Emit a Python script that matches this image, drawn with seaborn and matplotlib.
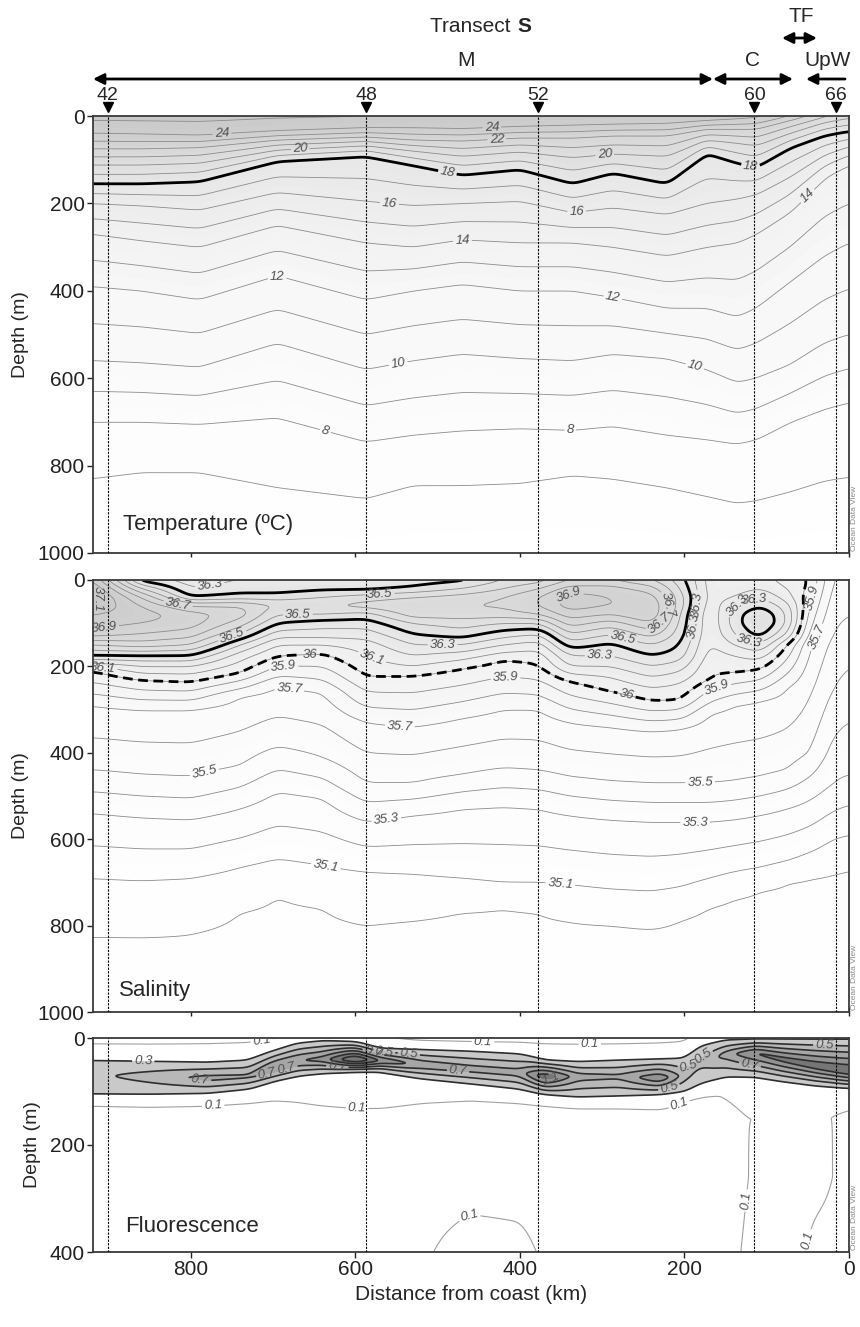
import numpy as np
import matplotlib
matplotlib.use("Agg")
import matplotlib.pyplot as plt
import matplotlib.patches as mpatches
import matplotlib.transforms as mtransforms
from matplotlib.colors import LinearSegmentedColormap, ListedColormap, BoundaryNorm
import seaborn as sns

sns.set_theme(style="white")
plt.rcParams['font.family'] = ['Liberation Sans', 'DejaVu Sans']

# ---------------------------------------------------------------- data
station_names = ["42", "48", "52", "60", "66"]
station_km = [901, 587, 378, 115, 16]

# Temperature: depth (m) of isotherms at section nodes (km from coast)
temp_x = [919, 860, 790, 695, 587, 530, 470, 400, 336, 287, 221, 173, 136, 113, 72, 30, 0]
temp_levels = [26, 24, 22, 20, 18, 16, 14, 12, 10, 8, 7, 6]
t26 = [-20, -20, -20, -25, -25, -30, -30, -35, -35, -40, -40, -45, -50, -55, -70, -90, -100]
t24 = [40, 42, 45, 35, 28, 28, 30, 25, 22, 20, 18, 12, 8, 5, -10, -30, -40]
t22 = [75, 75, 72, 55, 48, 55, 57, 50, 50, 45, 45, 30, 30, 30, 10, -10, -20]
t20 = [112, 112, 108, 78, 68, 80, 92, 82, 95, 87, 92, 55, 62, 68, 40, 15, 5]
t18 = [155, 155, 150, 103, 91, 112, 135, 122, 155, 130, 155, 84, 107, 118, 73, 45, 35]
t16 = [200, 205, 215, 175, 195, 205, 200, 195, 221, 210, 225, 200, 190, 180, 140, 90, 70]
t14 = [270, 285, 300, 250, 290, 300, 283, 290, 290, 300, 320, 300, 290, 270, 220, 140, 110]
t12 = [390, 400, 420, 365, 420, 400, 385, 400, 400, 415, 440, 440, 460, 440, 380, 320, 290]
t10 = [560, 565, 575, 520, 580, 560, 545, 555, 560, 545, 555, 580, 610, 600, 570, 520, 500]
t8 = [700, 700, 705, 690, 745, 730, 720, 715, 719, 710, 730, 740, 750, 740, 700, 670, 655]
t7 = [829, 815, 815, 850, 875, 845, 845, 840, 822, 830, 850, 870, 886, 880, 860, 835, 826]
t6 = [1060, 1060, 1060, 1060, 1060, 1060, 1060, 1060, 1060, 1060, 1060, 1060, 1060, 1060, 1060, 1060, 1060]

# Salinity: upper-layer values at fixed depths and isohaline depths below
sal_x = [919, 860, 800, 740, 695, 640, 587, 530, 470, 420, 377, 340, 290, 240, 205, 170, 140, 108, 75, 47, 20, 0]
sal_zu = [0, 20, 40, 60, 80, 100, 125, 150, 175, 200, 225, 250]
nan = np.nan
s_000 = [37.00, 36.35, 36.25, 36.30, 36.30, 36.30, 36.30, 36.35, 36.38, 36.50, 36.55, 36.70, 36.70, 36.60, 36.45, 36.15, 36.10, 36.15, 36.05, nan, nan, nan]
s_020 = [37.10, 36.60, 36.30, 36.35, 36.35, 36.38, 36.38, 36.42, 36.50, 36.60, 36.70, 36.85, 36.85, 36.75, 36.50, 36.15, 36.15, 36.20, 36.10, nan, nan, nan]
s_040 = [37.15, 36.80, 36.40, 36.45, 36.45, 36.50, 36.55, 36.60, 36.65, 36.70, 36.80, 36.95, 36.90, 36.85, 36.55, 36.15, 36.20, 36.30, 36.15, nan, nan, nan]
s_060 = [37.10, 36.90, 36.70, 36.70, 36.60, 36.60, 36.65, 36.70, 36.70, 36.72, 36.80, 36.95, 36.90, 36.90, 36.55, 36.12, 36.30, 36.40, 36.25, nan, nan, nan]
s_080 = [37.00, 36.95, 36.85, 36.75, 36.50, 36.50, 36.45, 36.65, 36.65, 36.65, 36.70, 36.85, 36.80, 36.90, 36.50, 36.10, 36.35, 36.50, 36.30, nan, nan, nan]
s_100 = [36.95, 36.90, 36.85, 36.65, 36.40, 36.35, 36.35, 36.50, 36.55, 36.50, 36.50, 36.75, 36.65, 36.80, 36.48, 36.10, 36.35, 36.52, 36.30, nan, nan, nan]
s_125 = [36.85, 36.80, 36.75, 36.50, 36.25, 36.25, 36.25, 36.40, 36.45, 36.35, 36.30, 36.60, 36.50, 36.65, 36.45, 36.10, 36.30, 36.45, 36.20, nan, nan, nan]
s_150 = [36.60, 36.65, 36.60, 36.30, 36.10, 36.10, 36.15, 36.30, 36.30, 36.20, 36.15, 36.45, 36.38, 36.50, 36.40, 36.08, 36.20, 36.30, nan, nan, nan, nan]
s_175 = [36.40, 36.40, 36.40, 36.15, nan, nan, 36.10, 36.20, 36.15, 36.05, 36.05, 36.30, 36.30, 36.40, 36.35, 36.05, 36.10, 36.15, nan, nan, nan, nan]
s_200 = [nan, 36.20, 36.20, nan, nan, nan, 36.05, 36.10, nan, nan, nan, 36.20, 36.20, 36.30, 36.25, 36.02, nan, nan, nan, nan, nan, nan]
s_225 = [nan, nan, nan, nan, nan, nan, nan, nan, nan, nan, nan, nan, 36.10, 36.20, 36.15, nan, nan, nan, nan, nan, nan, nan]
s_250 = [nan, nan, nan, nan, nan, nan, nan, nan, nan, nan, nan, nan, nan, 36.10, 36.07, nan, nan, nan, nan, nan, nan, nan]
sal_deep_levels = [36.0, 35.7, 35.5, 35.3, 35.1, 35.0, 34.9]
d360 = [210, 232, 236, 215, 176, 170, 224, 222, 205, 185, 195, 235, 258, 280, 278, 228, 215, 208, 150, 8, -60, -80]
d357 = [290, 300, 300, 270, 245, 260, 330, 340, 320, 300, 300, 330, 340, 350, 345, 310, 290, 280, 250, 150, -20, -40]
d355 = [440, 450, 455, 430, 385, 410, 470, 470, 450, 435, 440, 455, 465, 470, 470, 470, 465, 455, 440, 400, 250, 200]
d353 = [540, 550, 555, 530, 490, 505, 560, 545, 530, 525, 530, 545, 555, 560, 560, 560, 555, 545, 530, 510, 470, 450]
d351 = [690, 695, 690, 665, 645, 660, 675, 680, 690, 700, 700, 705, 715, 720, 710, 690, 675, 665, 650, 630, 600, 590]
d350 = [830, 830, 820, 770, 730, 760, 800, 790, 770, 760, 770, 790, 800, 810, 790, 760, 740, 720, 700, 690, 680, 670]
d349 = [875, 900, 1100, 1100, 1100, 1100, 1050, 930, 960, 1100, 1100, 1100, 940, 900, 960, 900, 880, 900, 950, 1000, 1000, 1000]

# Fluorescence: chlorophyll band description at nodes
fl_x = [919, 850, 780, 730, 700, 670, 640, 600, 570, 520, 460, 400, 370, 330, 280, 230, 200, 180, 150, 113, 80, 40, 0]
fl_surf = [0.03, 0.03, 0.04, 0.05, 0.08, 0.20, 0.27, 0.25, 0.12, 0.05, 0.03, 0.03, 0.03, 0.03, 0.03, 0.04, 0.06, 0.20, 0.28, 0.28, 0.28, 0.28, 0.28]
fl_top = [42, 44, 46, 42, 25, 10, 6, 8, 20, 22, 25, 30, 42, 45, 42, 40, 38, 15, 5, 3, 3, 3, 3]
fl_core = [70, 72, 75, 72, 55, 42, 40, 40, 42, 50, 58, 65, 72, 72, 72, 75, 70, 45, 30, 28, 40, 52, 62]
fl_peak = [0.45, 0.60, 0.78, 0.75, 0.95, 0.90, 1.00, 1.60, 1.10, 0.85, 0.80, 0.80, 1.30, 0.80, 0.75, 1.10, 0.60, 0.55, 0.80, 1.15, 1.20, 1.25, 1.30]
fl_bot = [105, 105, 103, 95, 80, 70, 65, 62, 62, 75, 85, 95, 105, 110, 108, 105, 100, 85, 72, 72, 80, 88, 93]
fl_low = [125, 127, 125, 120, 115, 118, 125, 130, 130, 120, 115, 120, 125, 130, 130, 132, 115, 108, 105, 150, 150, 150, 130]
fl_mid = [0.06, 0.06, 0.06, 0.06, 0.06, 0.06, 0.06, 0.06, 0.06, 0.07, 0.07, 0.07, 0.06, 0.06, 0.06, 0.06, 0.06, 0.06, 0.07, 0.11, 0.12, 0.11, 0.09]
fl_deep = [0.07, 0.07, 0.07, 0.07, 0.07, 0.07, 0.07, 0.07, 0.07, 0.09, 0.13, 0.12, 0.09, 0.07, 0.07, 0.07, 0.07, 0.07, 0.08, 0.12, 0.12, 0.09, 0.09]

# ---------------------------------------------------------------- grids
XF = np.linspace(0, 919, 461)


def along(xn, arr, xf=XF):
    xn = np.asarray(xn, float)
    a = np.asarray(arr, float)
    o = np.argsort(xn)
    return np.interp(xf, xn[o], a[o])


def smooth(Z, sx, sz):
    def k(s):
        n = max(1, int(3 * s))
        t = np.arange(-n, n + 1)
        w = np.exp(-0.5 * (t / s) ** 2)
        return w / w.sum(), n
    wx, nx = k(sx)
    wz, nz = k(sz)
    P = np.pad(Z, ((0, 0), (nx, nx)), mode='edge')
    Z = np.apply_along_axis(lambda r: np.convolve(r, wx, mode='valid'), 1, P)
    P = np.pad(Z, ((nz, nz), (0, 0)), mode='edge')
    Z = np.apply_along_axis(lambda c: np.convolve(c, wz, mode='valid'), 0, P)
    return Z


# temperature field
ZT = np.arange(0, 1001, 2.0)
tdep = np.array([along(temp_x, a) for a in [t26, t24, t22, t20, t18, t16, t14, t12, t10, t8, t7, t6]])
T = np.empty((ZT.size, XF.size))
for j in range(XF.size):
    T[:, j] = np.interp(ZT, tdep[:, j], temp_levels)
T = smooth(T, 3, 2)

# salinity field
ZS = np.arange(0, 1001, 2.0)
upper = np.array([s_000, s_020, s_040, s_060, s_080, s_100, s_125, s_150, s_175, s_200, s_225, s_250])
deep = np.array([d360, d357, d355, d353, d351, d350, d349])
Snode = np.empty((ZS.size, len(sal_x)))
for j in range(len(sal_x)):
    zz, vv = [], []
    for i, z in enumerate(sal_zu):
        if not np.isnan(upper[i, j]) and z < deep[0, j] - 10:
            zz.append(z)
            vv.append(upper[i, j])
    zz += list(deep[:, j])
    vv += sal_deep_levels
    Snode[:, j] = np.interp(ZS, zz, vv)
order = np.argsort(sal_x)
S = np.array([np.interp(XF, np.array(sal_x)[order], Snode[r, order]) for r in range(ZS.size)])
S = smooth(S, 4, 3)

# fluorescence field
ZF = np.arange(0, 401, 1.0)
fp = {n: along(fl_x, a) for n, a in [("surf", fl_surf), ("top", fl_top), ("core", fl_core), ("peak", fl_peak),
                                      ("bot", fl_bot), ("low", fl_low), ("mid", fl_mid), ("deep", fl_deep)]}
F = np.empty((ZF.size, XF.size))
for j in range(XF.size):
    zp = [0, fp["top"][j], fp["core"][j], fp["bot"][j], fp["low"][j], 260, 400]
    vp = [fp["surf"][j], 0.3, fp["peak"][j], 0.3, 0.1, fp["mid"][j], fp["deep"][j]]
    F[:, j] = np.interp(ZF, zp, vp)
F = smooth(F, 3, 2)

# ---------------------------------------------------------------- figure
W, H = 860, 1327
fig = plt.figure(figsize=(W / 100, H / 100), dpi=100)


def rect(l, t, r, b):
    return [l / W, 1 - b / H, (r - l) / W, (b - t) / H]


ax1 = fig.add_axes(rect(93, 116, 849, 553))
ax2 = fig.add_axes(rect(93, 580, 849, 1012))
ax3 = fig.add_axes(rect(93, 1038, 849, 1252))

line_gray = '#8c8c8c'
lab_col = '#505050'


def style_labels(txts):
    for t in txts:
        t.set_fontstyle('italic')
        t.set_color(lab_col)


def labeled(ax, X, Z, V, levels, pos, fmt, **kw):
    cs = ax.contour(X, Z, V, levels=levels, **kw)
    style_labels(cs.clabel(manual=pos, fmt=fmt, fontsize=9.5, inline=True, inline_spacing=2))
    return cs


# --- temperature
cm_t = LinearSegmentedColormap.from_list('t', [(0, '#ffffff'), (0.3, '#f7f7f7'), (0.6, '#e6e6e6'), (1, '#c4c4c4')])
ax1.contourf(XF, ZT, T, levels=np.arange(6, 26.6, 0.5), cmap=cm_t, extend='both')
ax1.contour(XF, ZT, T, levels=[7, 9, 11, 13, 15, 17, 19, 21, 23, 25], colors=line_gray, linewidths=0.6)
labeled(ax1, XF, ZT, T, [8, 10, 12, 14, 16, 20, 22, 24],
        [(762, 46), (434, 30), (428, 57), (667, 76), (297, 87),
         (558, 187), (331, 221), (470, 283), (53, 178), (695, 365), (287, 415),
         (550, 548), (185, 555), (637, 724), (339, 719)], '%d', colors=line_gray, linewidths=0.6)
labeled(ax1, XF, ZT, T, [18], [(489, 137), (120, 120)], '%d', colors='black', linewidths=2.0)

# --- salinity
cm_s = LinearSegmentedColormap.from_list('s', [(0, '#ffffff'), (0.35, '#fbfbfb'), (0.55, '#eeeeee'), (0.75, '#dddddd'), (1, '#c2c2c2')])
ax2.contourf(XF, ZS, S, levels=np.arange(34.8, 37.25, 0.05), cmap=cm_s, extend='both')
ax2.contour(XF, ZS, S, levels=[34.9, 35.0, 35.2, 35.4, 35.6, 35.8, 36.0, 36.2, 36.4, 36.6, 36.8, 37.0],
            colors=line_gray, linewidths=0.6)
labeled(ax2, XF, ZS, S, [35.1, 35.3, 35.5, 35.7, 35.9, 36.1, 36.3, 36.5, 36.7, 36.9, 37.1],
        [(901, 46), (905, 116), (339, 46), (240, 81), (817, 69), (670, 62), (570, 50), (218, 58),
         (752, 116), (275, 134), (114, 58), (777, 12), (494, 155), (303, 192), (124, 157),
         (582, 190), (181, 58), (169, 111), (139, 46), (907, 197),
         (688, 185), (418, 204), (160, 255), (680, 248), (546, 340), (35, 46),
         (783, 451), (181, 470), (38, 134), (564, 532), (187, 560), (637, 671), (351, 706)],
        '%.1f', colors=line_gray, linewidths=0.6)
ax2.contour(XF, ZS, S, levels=[36.4], colors='black', linewidths=2.0)
labeled(ax2, XF, ZS, S, [36.0], [(655, 155), (270, 262)], '%g',
        colors='black', linewidths=2.0, linestyles=[(0, (3.5, 2))])

# --- fluorescence
f_fill_levels = [0.3, 0.5, 0.7, 0.9, 1.1, 1.5, 5.0]
f_cmap = ListedColormap(['#c9c9c9', '#b8b8b8', '#a6a6a6', '#939393', '#767676', '#3c3c3c'])
ax3.contourf(XF, ZF, F, levels=f_fill_levels, cmap=f_cmap, norm=BoundaryNorm(f_fill_levels, 6))
labeled(ax3, XF, ZF, F, [0.1], [(712, 26), (773, 125), (598, 131), (445, 19), (315, 22), (205, 131),
                                (462, 331), (129, 303), (49, 378)], '%g', colors='#a0a0a0', linewidths=0.8)
ax3.contour(XF, ZF, F, levels=[1.3, 1.5], colors='#2e2e2e', linewidths=1.2)
labeled(ax3, XF, ZF, F, [0.3, 0.5, 0.7, 0.9, 1.1],
        [(858, 53), (218, 97), (197, 45), (362, 75),
         (622, 54), (535, 28), (175, 40), (789, 82), (708, 63), (475, 56),
         (683, 60), (565, 26), (30, 15), (578, 26), (120, 45)],
        '%g', colors='#2e2e2e', linewidths=1.2)

# --- common axes styling
for ax, zmax, yt in [(ax1, 1000, [0, 200, 400, 600, 800, 1000]),
                     (ax2, 1000, [0, 200, 400, 600, 800, 1000]),
                     (ax3, 400, [0, 200, 400])]:
    ax.set_xlim(919, 0)
    ax.set_ylim(zmax, 0)
    for km in station_km:
        ax.axvline(km, color='black', lw=0.8, ls=(0, (2, 1.2)), zorder=5)
    ax.set_yticks(yt)
    ax.set_xticks([800, 600, 400, 200, 0])
    ax.tick_params(axis='both', left=True, bottom=True, direction='out', length=4, width=1,
                   labelsize=15, colors='#222222', pad=2)
    ax.set_ylabel('Depth (m)', fontsize=14, labelpad=6)
    for sp in ax.spines.values():
        sp.set_color('#3a3a3a')
        sp.set_linewidth(1.3)
    ax.grid(False)

ax1.tick_params(axis='x', labelbottom=False, direction='inout', length=6)
ax2.tick_params(axis='x', labelbottom=False, direction='inout', length=6)
ax3.set_xlabel('Distance from coast (km)', fontsize=15, labelpad=4)

ax1.text(0.04, 0.065, 'Temperature (ºC)', transform=ax1.transAxes, fontsize=16, va='center', ha='left')
ax2.text(0.035, 0.05, 'Salinity', transform=ax2.transAxes, fontsize=16, va='center', ha='left')
ax3.text(0.043, 0.12, 'Fluorescence', transform=ax3.transAxes, fontsize=16, va='center', ha='left')

for ax in (ax1, ax2, ax3):
    p = ax.get_position()
    fig.text(p.x1 + 2 / W, p.y0 + 2 / H, 'Ocean Data View', rotation=90, fontsize=6,
             color='#8a8a8a', ha='left', va='bottom')

# --- station markers and names
tr = mtransforms.blended_transform_factory(ax1.transData, ax1.transAxes)
ax1.plot(station_km, [1.021] * len(station_km), linestyle='none', marker='v', markersize=7,
         color='black', transform=tr, clip_on=False)
for nm, km in zip(station_names, station_km):
    ax1.text(km, 1.048, nm, transform=tr, fontsize=14, ha='center', va='center', clip_on=False)


# --- zone arrows and titles
def fx(px):
    return px / W


def fy(py):
    return 1 - py / H


def arrow(x0, x1, y, style):
    fig.add_artist(mpatches.FancyArrowPatch((fx(x0), fy(y)), (fx(x1), fy(y)),
                                            transform=fig.transFigure, arrowstyle=style,
                                            mutation_scale=16, lw=2, color='black',
                                            shrinkA=0, shrinkB=0))


arrow(93, 713, 79, '<|-|>')
arrow(713, 793, 79, '<|-|>')
arrow(845, 806, 79, '-|>')
arrow(782, 817, 38, '<|-|>')

fig.text(fx(516), fy(27), 'Transect ', fontsize=15, ha='right', va='center')
fig.text(fx(517), fy(27), 'S', fontsize=15, ha='left', va='center', fontweight='bold')
fig.text(fx(466), fy(60), 'M', fontsize=15, ha='center', va='center')
fig.text(fx(752), fy(60), 'C', fontsize=15, ha='center', va='center')
fig.text(fx(828), fy(60), 'UpW', fontsize=15, ha='center', va='center')
fig.text(fx(801), fy(17), 'TF', fontsize=15, ha='center', va='center')

fig.savefig('out.png', dpi=100, facecolor='white')
